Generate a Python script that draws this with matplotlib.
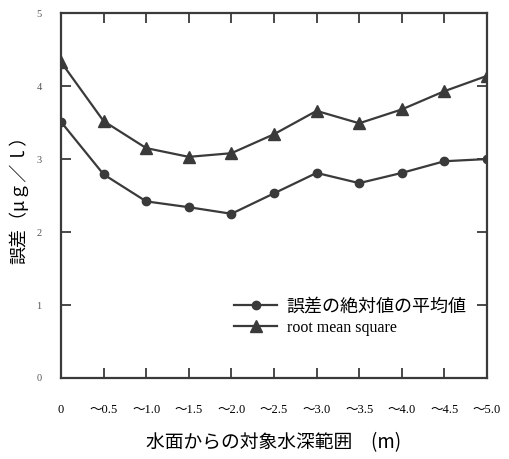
import matplotlib.pyplot as plt

# 水深範囲 (m)
depth = [0, 0.5, 1.0, 1.5, 2.0, 2.5, 3.0, 3.5, 4.0, 4.5, 5.0]
depth_labels = ["0", "～0.5", "～1.0", "～1.5", "～2.0", "～2.5",
                "～3.0", "～3.5", "～4.0", "～4.5", "～5.0"]

# 誤差の絶対値の平均値
mae = [3.51, 2.79, 2.42, 2.34, 2.25, 2.53, 2.81, 2.67, 2.81, 2.97, 3.00]
# root mean square
rms = [4.33, 3.52, 3.15, 3.03, 3.08, 3.34, 3.66, 3.49, 3.68, 3.93, 4.14]

jp = ['Noto Sans CJK JP', 'DejaVu Sans']
serif = ['Liberation Serif', 'Noto Sans CJK JP']
col = '#3a3a3a'

fig = plt.figure(figsize=(5.09, 4.59), dpi=100)
ax = fig.add_axes([0.1198, 0.1765, 0.837, 0.795])

ax.plot(depth, mae, color=col, lw=1.6, marker='o', ms=6, label='誤差の絶対値の平均値')
ax.plot(depth, rms, color=col, lw=1.6, marker='^', ms=8, label='root mean square')

ax.set_xlim(0, 5.0)
ax.set_ylim(0, 5)
ax.set_xticks(depth)
ax.set_xticklabels(depth_labels, family=serif, fontsize=9)
ax.set_yticks(range(6))
ax.set_yticklabels([str(i) for i in range(6)], family=serif, fontsize=7.5, color='#555555')
ax.tick_params(axis='both', direction='in', length=7, width=1.3, color=col,
               top=True, right=True)
ax.tick_params(axis='x', pad=19)
ax.tick_params(axis='y', pad=14)
for s in ax.spines.values():
    s.set_color(col)
    s.set_linewidth(1.6)

ax.set_xlabel('水面からの対象水深範囲　(m)', family=jp, fontsize=13.5, labelpad=11)
ax.set_ylabel('誤差（μｇ／ｌ）', family=jp, fontsize=13, labelpad=6)

leg = ax.legend(loc='lower right', bbox_to_anchor=(0.99, 0.07), frameon=False,
                handlelength=2.4, handletextpad=0.5, labelspacing=0.25,
                prop={'family': jp, 'size': 13})
leg.get_texts()[1].set_family(serif)
leg.get_texts()[1].set_fontsize(11.5)

fig.savefig('out.png', dpi=100)
